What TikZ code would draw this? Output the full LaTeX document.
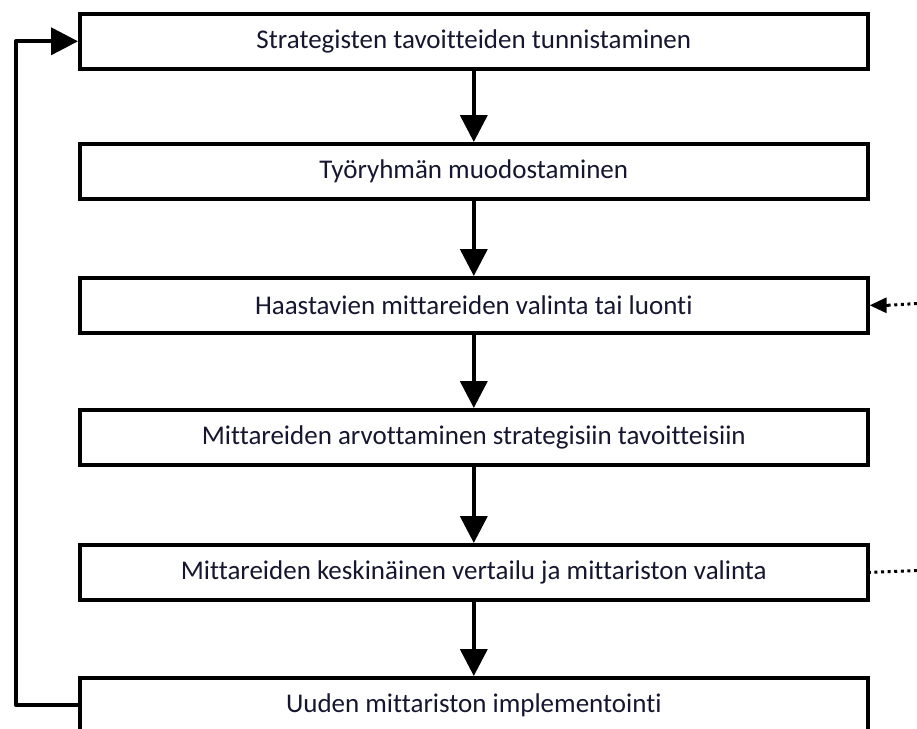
\documentclass[tikz,border=0pt]{standalone}
\usepackage{fontspec}
\setmainfont{Carlito}[Ligatures=NoCommon]
\usetikzlibrary{arrows.meta,positioning}
\definecolor{inkdark}{RGB}{22,22,48}
\begin{document}
\begin{tikzpicture}[x=1pt,y=-1pt,
  stepbox/.style={draw=black, line width=3.6pt, fill=white,
    minimum width=788pt, minimum height=55pt, inner sep=0pt,
    font=\fontsize{27}{32}\selectfont, text=inkdark, anchor=north west},
  flow/.style={line width=4pt, -{Triangle[length=27pt,width=27pt]}},
  side/.style={line width=3pt, dash pattern=on 3pt off 3.6pt}
]
\useasboundingbox (0,0) rectangle (917,728);
% process steps
\node[stepbox] (s1) at (78,12)  {Strategisten tavoitteiden tunnistaminen};
\node[stepbox] (s2) at (78,142) {Työryhmän muodostaminen};
\node[stepbox] (s3) at (78,276) {Haastavien mittareiden valinta tai luonti};
\node[stepbox] (s4) at (78,408) {Mittareiden arvottaminen strategisiin tavoitteisiin};
\node[stepbox] (s5) at (78,543) {Mittareiden keskinäinen vertailu ja mittariston valinta};
\node[stepbox] (s6) at (78,676) {Uuden mittariston implementointi};
% main flow
\draw[flow] (s1.south) -- (s2.north);
\draw[flow] (s2.south) -- (s3.north);
\draw[flow] (s3.south) -- (s4.north);
\draw[flow] (s4.south) -- (s5.north);
\draw[flow] (s5.south) -- (s6.north);
% feedback loop back to the first step
\coordinate (loopx) at (16,0);
\draw[flow, line join=round] (s6.west) -- (s6.west -| loopx) -- (s1.west -| loopx) -- (s1.west);
% external inputs on the right
\coordinate (in3) at (917,303.5);
\coordinate (in5) at (917,570.5);
\draw[side] (in3) -- ([xshift=18pt]s3.east);
\draw[line width=3pt, -{Triangle[length=17pt,width=15pt]}] ([xshift=19pt]s3.east) -- (s3.east);
\draw[side] (in5) -- (s5.east);
\end{tikzpicture}
\end{document}
